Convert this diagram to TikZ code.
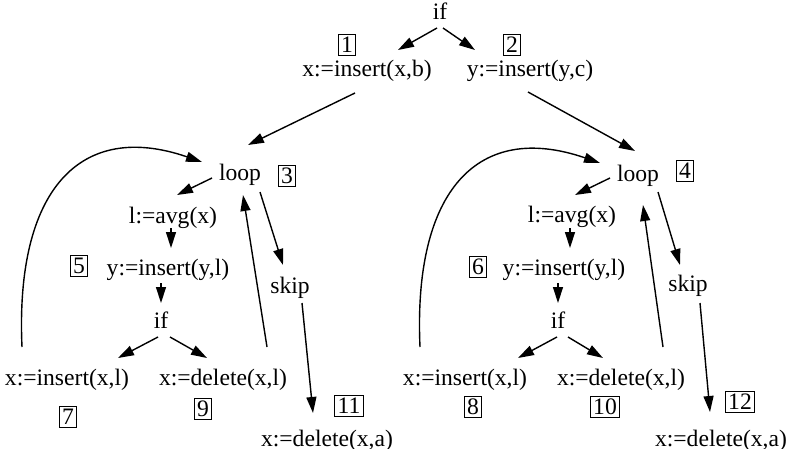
\documentclass[tikz,border=0pt]{standalone}
\usepackage{fontspec}
\setmainfont{Liberation Serif}
\usetikzlibrary{arrows.meta}

\begin{document}
\begin{tikzpicture}[x=.5pt,y=.5pt,font=\fontsize{11.8}{14}\selectfont,
    st/.style={inner sep=0pt,text height=.72em,text depth=.22em},
    num/.style={draw,line width=.5pt,inner sep=1.5pt},
    a/.style={-{Triangle[length=8pt,width=5pt]},line width=.7pt}]
  \useasboundingbox (0,0) rectangle (793,-449);
  % top branch
  \node[st] (if0) at (440,-15) {if};
  \node[num] (n1) at (347,-45) {1};
  \node[st] (s1) at (367,-72) {x:=insert(x,b)};
  \node[num] (n2) at (512,-45) {2};
  \node[st] (s2) at (530,-72) {y:=insert(y,c)};
  % left loop
  \node[st] (loopA) at (240,-176) {loop};
  \node[num] (n3) at (287,-176) {3};
  \node[st] (avgA) at (173,-218) {l:=avg(x)};
  \node[num] (n5) at (79,-266) {5};
  \node[st] (insA) at (168,-270) {y:=insert(y,l)};
  \node[st] (ifA) at (161,-323) {if};
  \node[st] (xinsA) at (67,-380) {x:=insert(x,l)};
  \node[st] (xdelA) at (223,-380) {x:=delete(x,l)};
  \node[num] (n7) at (68,-417) {7};
  \node[num] (n9) at (203,-409) {9};
  \node[st] (skipA) at (290,-288) {skip};
  \node[num] (n11) at (349,-406) {11};
  \node[st] (delA) at (327,-441) {x:=delete(x,a)};
  % right loop
  \node[st] (loopB) at (638,-177) {loop};
  \node[num] (n4) at (685,-171) {4};
  \node[st] (avgB) at (572,-217) {l:=avg(x)};
  \node[num] (n6) at (478,-267) {6};
  \node[st] (insB) at (564,-270) {y:=insert(y,l)};
  \node[st] (ifB) at (558,-323) {if};
  \node[st] (xinsB) at (465,-380) {x:=insert(x,l)};
  \node[st] (xdelB) at (621,-380) {x:=delete(x,l)};
  \node[num] (n8) at (473,-407) {8};
  \node[num] (n10) at (605,-407) {10};
  \node[st] (skipB) at (688,-287) {skip};
  \node[num] (n12) at (740,-402) {12};
  \node[st] (delB) at (721,-441) {x:=delete(x,a)};
  % arrows
  \draw[a] ([shift={(-3,-13)}]if0.center) -- ([shift={(31,22)}]s1.center);
  \draw[a] ([shift={(3,-13)}]if0.center) -- ([shift={(-55,22)}]s2.center);
  \draw[a] ([shift={(-12,-21)}]s1.center) -- ([shift={(8,31)}]loopA.center);
  \draw[a] ([shift={(-2,-20)}]s2.center) -- ([shift={(-3,26)}]loopB.center);
  \draw[a] ([shift={(-28,-2)}]loopA.center) -- ([shift={(4,23)}]avgA.center);
  \draw[a] ([shift={(-2,-10)}]avgA.center) -- ([shift={(3,22)}]insA.center);
  \draw[a] ([shift={(-7,-13)}]insA.center) -- ([shift={(0,20)}]ifA.center);
  \draw[a] ([shift={(-3,-14)}]ifA.center) -- ([shift={(51,22)}]xinsA.center);
  \draw[a] ([shift={(9,-14)}]ifA.center) -- ([shift={(-16,22)}]xdelA.center);
  \draw[a] ([shift={(44,33)}]xdelA.center) -- ([shift={(3,-19)}]loopA.center);
  \draw[a] ([shift={(20,-16)}]loopA.center) -- ([shift={(-7,23)}]skipA.center);
  \draw[a] ([shift={(12,-15)}]skipA.center) -- ([shift={(-14,28)}]delA.center);
  \draw[a] ([shift={(-45,33)}]xinsA.center) .. controls +(-7,157) and +(-122,42) .. ([shift={(-38,14)}]loopA.center);
  \draw[a] ([shift={(-28,-1)}]loopB.center) -- ([shift={(3,22)}]avgB.center);
  \draw[a] ([shift={(-2,-11)}]avgB.center) -- ([shift={(6,22)}]insB.center);
  \draw[a] ([shift={(-6,-13)}]insB.center) -- ([shift={(0,20)}]ifB.center);
  \draw[a] ([shift={(-1,-14)}]ifB.center) -- ([shift={(53,22)}]xinsB.center);
  \draw[a] ([shift={(10,-14)}]ifB.center) -- ([shift={(-18,22)}]xdelB.center);
  \draw[a] ([shift={(42,33)}]xdelB.center) -- ([shift={(5,-28)}]loopB.center);
  \draw[a] ([shift={(20,-15)}]loopB.center) -- ([shift={(-8,22)}]skipB.center);
  \draw[a] ([shift={(12,-16)}]skipB.center) -- ([shift={(-11,29)}]delB.center);
  \draw[a] ([shift={(-45,33)}]xinsB.center) .. controls +(-7,157) and +(-122,42) .. ([shift={(-38,14)}]loopB.center);
\end{tikzpicture}
\end{document}
